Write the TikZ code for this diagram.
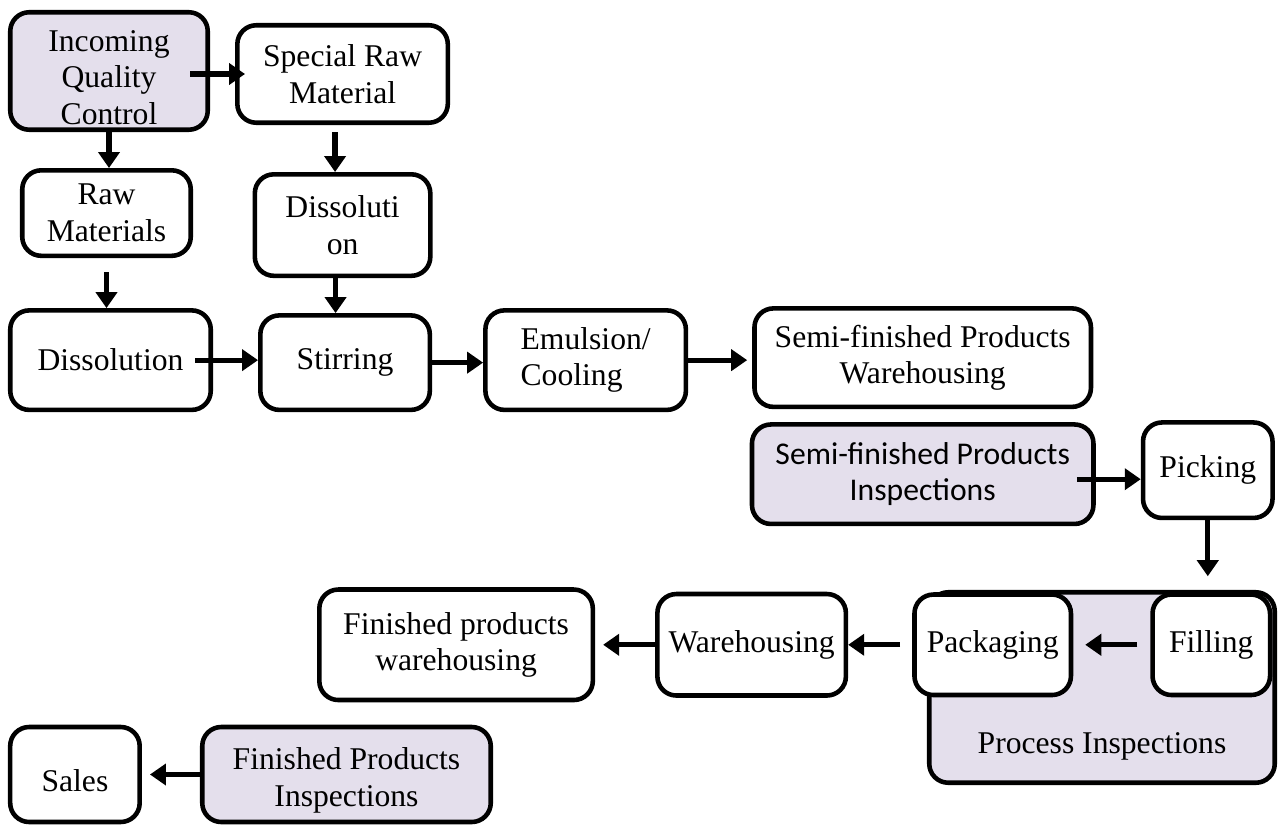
\documentclass[tikz,border=0pt]{standalone}
\usepackage{fontspec}
\setmainfont{Liberation Serif}
\newfontfamily\carlito{Carlito}
\usepackage{xcolor}
\usepackage{tikz}
\usetikzlibrary{positioning, arrows.meta}
\definecolor{lavender}{RGB}{228,223,236}

\begin{document}
\begin{tikzpicture}[
    box/.style={draw, line width=2.6pt, rounded corners=0.38cm, inner sep=0pt, fill=white, align=center, font=\fontsize{18}{20.8}\selectfont},
    check/.style={box, fill=lavender},
    lbl/.style={align=center, font=\fontsize{18}{20.8}\selectfont},
    arrow/.style={-{Triangle[length=0.32cm, width=0.42cm]}, line width=3pt}
]
\clip (0,0) rectangle (25.64,-16.52);

% Intake
\node[check, minimum width=3.95cm, minimum height=2.35cm, label={[lbl, yshift=-0.13cm]center:Incoming\\Quality\\Control}] (iqc) at (2.18,-1.42) {};
\node[box, minimum width=4.21cm, minimum height=1.95cm, right=0.5cm of iqc, yshift=-0.06cm] (special) {Special Raw\\Material};
\node[box, minimum width=3.37cm, minimum height=1.71cm, below=0.72cm of iqc, xshift=-0.05cm] (rawmat) {Raw\\Materials};
\node[box, minimum width=3.51cm, minimum height=2.03cm, below=0.94cm of special] (dissol2) {Dissoluti\\on};

% Production line
\node[box, minimum width=4.01cm, minimum height=1.99cm, below=1.0cm of rawmat, xshift=0.08cm] (dissol1) {Dissolution};
\node[box, minimum width=3.39cm, minimum height=1.89cm, right=0.9cm of dissol1, yshift=-0.05cm] (stirring) {Stirring};
\node[box, minimum width=4.01cm, minimum height=1.99cm, right=1.02cm of stirring, yshift=0.05cm, align=left] (emulsion) {Emulsion/\\Cooling};
\node[box, minimum width=6.73cm, minimum height=1.97cm, right=1.28cm of emulsion, yshift=0.05cm] (semiware) {Semi-finished Products\\Warehousing};
\node[check, minimum width=6.83cm, minimum height=1.99cm, below=0.26cm of semiware, font=\fontsize{18}{20.8}\carlito] (semiinsp) {Semi-finished Products\\Inspections};
\node[box, minimum width=2.59cm, minimum height=1.91cm, right=0.9cm of semiinsp, yshift=0.08cm] (picking) {Picking};

% Process inspections
\node[check, minimum width=6.91cm, minimum height=3.81cm, label={[lbl, anchor=base, yshift=0.64cm]south:Process Inspections}] (procinsp) at (22.04,-13.75) {};
\node[box, minimum width=2.35cm, minimum height=2.01cm, below=1.44cm of picking, xshift=0.07cm] (filling) {Filling};
\node[box, minimum width=3.13cm, minimum height=2.01cm, left=1.54cm of filling] (packaging) {Packaging};

% Finished goods
\node[box, minimum width=3.77cm, minimum height=2.03cm, left=1.28cm of packaging] (warehouse) {Warehousing};
\node[box, minimum width=5.47cm, minimum height=2.21cm, left=1.2cm of warehouse] (finware) {Finished products\\warehousing};
\node[check, minimum width=5.77cm, minimum height=1.9cm, label={[lbl, yshift=-0.12cm]center:Finished Products\\Inspections}] (fininsp) at (6.93,-15.49) {};
\node[box, minimum width=2.59cm, minimum height=1.9cm, left=1.16cm of fininsp, label={[lbl, yshift=-0.12cm]center:Sales}] (sales) {};

% Arrows
\draw[arrow, shorten <=-0.4cm, shorten >=-0.2cm] (iqc.east |- special) -- (special.west);
\draw[arrow] (iqc.south) -- (iqc.south |- rawmat.north);
\draw[arrow, shorten <=0.14cm] ([xshift=-0.15cm]special.south) -- ([xshift=-0.15cm]special.south |- dissol2.north);
\draw[arrow, shorten <=0.28cm] (rawmat.south) -- (rawmat.south |- dissol1.north);
\draw[arrow] ([xshift=-0.14cm]dissol2.south) -- ([xshift=-0.14cm]dissol2.south |- stirring.north);
\draw[arrow, shorten <=-0.36cm] (dissol1.east) -- (dissol1.east -| stirring.west);
\draw[arrow] (stirring.east) -- (stirring.east -| emulsion.west);
\draw[arrow, shorten >=0.1cm] (emulsion.east) -- (emulsion.east -| semiware.west);
\draw[arrow, shorten <=-0.38cm] ([yshift=-0.1cm]semiinsp.east) -- ([yshift=-0.1cm]semiinsp.east -| picking.west);
\draw[arrow, shorten >=0.32cm] (picking.south) -- (picking.south |- filling.north);
\draw[arrow, shorten <=0.26cm, shorten >=0.24cm] (filling.west) -- (filling.west -| packaging.east);
\draw[arrow, shorten <=0.24cm] (packaging.west) -- (packaging.west -| warehouse.east);
\draw[arrow, shorten >=0.16cm] (warehouse.west) -- (warehouse.west -| finware.east);
\draw[arrow, shorten >=0.16cm] (fininsp.west) -- (fininsp.west -| sales.east);

\end{tikzpicture}
\end{document}
